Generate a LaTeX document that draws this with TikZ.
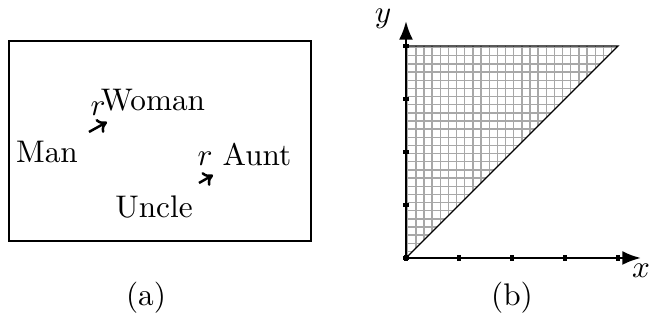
\documentclass[tikz,border=0pt]{standalone}
\usepackage{tikz}
\usetikzlibrary{arrows.meta}
\definecolor{gridgray}{HTML}{a8a8a8}

\begin{document}
\begin{tikzpicture}[x=0.32pt,y=0.32pt,
  word/.style={inner sep=0pt,anchor=center},
  relarrow/.style={line width=0.8pt,-{To[length=3pt,width=5pt]}},
  axisline/.style={line width=0.8pt,-{Latex[length=6pt,width=4.5pt]}},
  tickmark/.style={line width=1.1pt}]
  \useasboundingbox (0,0) rectangle (649,333);
  % (a) the box of relatives
  \draw[line width=0.8pt] (9,92) rectangle (311,292);
  \node[word] (man) at (47,181) {Man};
  \node[word] (woman) at (153,233) {Woman};
  \node[word] (aunt) at (257,178) {Aunt};
  \node[word] (uncle) at (154,126) {Uncle};
  \coordinate (s1) at (89,201);
  \coordinate (e1) at (107,211);
  \coordinate (s2) at (199,150);
  \coordinate (e2) at (213,158);
  \draw[relarrow] (s1) -- (e1);
  \draw[relarrow] (s2) -- (e2);
  \node[word] (r1) at (98,224) {$r$};
  \node[word] (r2) at (205,174) {$r$};
  \node[word] (capa) at (146,35) {(a)};
  % (b) the shaded triangle
  \coordinate (o) at (406,75);
  \coordinate (tr) at (618,287);
  \coordinate (tl) at (406,287);
  \begin{scope}
    \clip (o) -- (tr) -- (tl) -- cycle;
    \draw[gridgray,line width=0.45pt,step=8.154] (406,75) grid (620,290);
  \end{scope}
  \draw[line width=0.4pt] (o) -- (tr) -- (tl);
  \coordinate (xend) at (641,75);
  \coordinate (yend) at (406,312);
  \draw[axisline] (o) -- (xend);
  \draw[axisline] (o) -- (yend);
  \foreach \k in {0,...,4} {
    \draw[tickmark] (406+53*\k,72) -- (406+53*\k,78);
    \draw[tickmark] (403,75+53*\k) -- (409,75+53*\k);
  }
  \node[word] (xlab) at (641,62) {$x$};
  \node[word] (ylab) at (383,314) {$y$};
  \node[word] (capb) at (512,35) {(b)};
\end{tikzpicture}
\end{document}
